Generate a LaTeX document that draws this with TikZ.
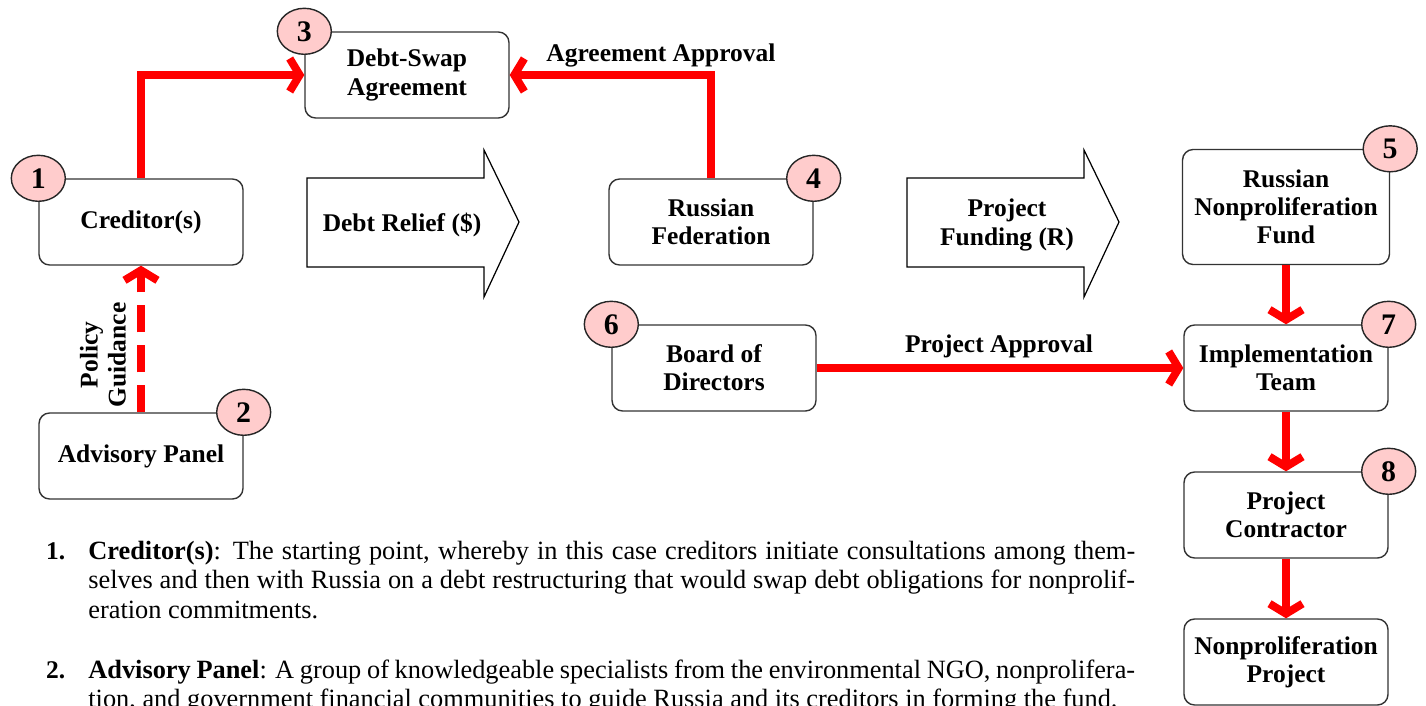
\documentclass[tikz,border=0pt]{standalone}
\usepackage{fontspec}
\setmainfont{Liberation Serif}
\usetikzlibrary{shapes.geometric,arrows.meta}

\def\bigarrowpath{(0,0) -- (177,0) -- (177,-28) -- (212,44) -- (177,119) -- (177,89) -- (0,89) -- cycle}
\colorlet{flow red}{red}
\definecolor{badge pink}{HTML}{FFCCCC}
\colorlet{box edge}{black!80}
\tikzset{stage/.style={draw=box edge, line width=0.8pt, rounded corners=6pt, fill=white,
    minimum width=4.08cm, minimum height=1.72cm, align=center,
    font=\fontsize{14.5}{16}\selectfont\bfseries},
  badge/.style={ellipse, draw=black!85, line width=0.8pt, fill=badge pink,
    minimum width=1.08cm, minimum height=0.92cm, inner sep=0pt,
    font=\fontsize{17}{17}\selectfont\bfseries},
  flow/.style={draw=flow red, line width=4.5pt, -{Straight Barb[length=0.2cm,width=0.66cm]}},
  guide/.style={flow, dash pattern=on 0.54cm off 0.26cm},
  bigarrow/.style={draw=black, line width=0.7pt, fill=white},
  tag/.style={font=\fontsize{14.5}{16}\selectfont\bfseries, align=center},
  note/.style={font=\fontsize{15}{16.8}\selectfont, text width=20.94cm, align=justify, inner sep=0pt}}

\begin{document}
\begin{tikzpicture}[x=0.02cm, y=-0.02cm]
     \useasboundingbox (0,0) rectangle (1426,706);
     \node[stage] (cred) at (141,222) {Creditor(s)};
     \node[stage] (dsa) at (407,75) {Debt-Swap\\Agreement};
     \node[stage] (rf) at (711,222) {Russian\\Federation};
     \node[stage, minimum width=4.14cm, minimum height=2.3cm] (rnf) at (1286,207) {Russian\\Nonproliferation\\Fund};
     \node[stage] (bod) at (714,368) {Board of\\Directors};
     \node[stage] (impl) at (1286,368) {Implementation\\Team};
     \node[stage] (pc) at (1286,515) {Project\\Contractor};
     \node[stage] (np) at (1286,662) {Nonproliferation\\Project};
     \node[stage] (adv) at (141,456) {Advisory Panel};

     \draw[bigarrow, shift={(307,178)}] \bigarrowpath;
     \node[tag] (relief) at (402,225) {Debt Relief (\$)};
     \draw[bigarrow, shift={(907,178)}] \bigarrowpath;
     \node[tag] (funding) at (1007,225) {Project\\Funding (R)};

     \draw[flow] (cred.north) |- (dsa.west);
     \draw[flow] (rf.north) |- (dsa.east);
     \node[tag] (agree) at (661,55) {Agreement Approval};
     \draw[guide] (adv.north) -- (cred.south);
     \node[tag, rotate=90] (policy) at (103,355) {Policy\\Guidance};
     \draw[flow] (bod.east) -- (impl.west);
     \node[tag] (papp) at (999,346) {Project Approval};
     \draw[flow] (rnf.south) -- (impl.north);
     \draw[flow] (impl.south) -- (pc.north);
     \draw[flow] (pc.south) -- (np.north);

     \node[badge] (n1) at (cred.north west) {1};
     \node[badge] (n2) at (adv.north east) {2};
     \node[badge] (n3) at (dsa.north west) {3};
     \node[badge] (n4) at (rf.north east) {4};
     \node[badge] (n5) at (rnf.north east) {5};
     \node[badge] (n6) at (bod.north west) {6};
     \node[badge] (n7) at (impl.north east) {7};
     \node[badge] (n8) at (pc.north east) {8};

     \node[tag, anchor=base west] (k1) at (40,559) {1.};
     \node[note, anchor=base west] (t1) at (88,559) {\textbf{Creditor(s)}: The starting point, whereby in this case creditors initiate consultations among them-\linebreak selves and then with Russia on a debt restructuring that would swap debt obligations for nonprolif-\linebreak eration commitments.};
     \node[tag, anchor=base west] (k2) at (40,678) {2.};
     \node[note, anchor=base west] (t2) at (88,678) {\textbf{Advisory Panel}: A group of knowledgeable specialists from the environmental NGO, nonprolifera-\linebreak tion, and government financial communities to guide Russia and its creditors in forming the fund.};
\end{tikzpicture}
\end{document}
